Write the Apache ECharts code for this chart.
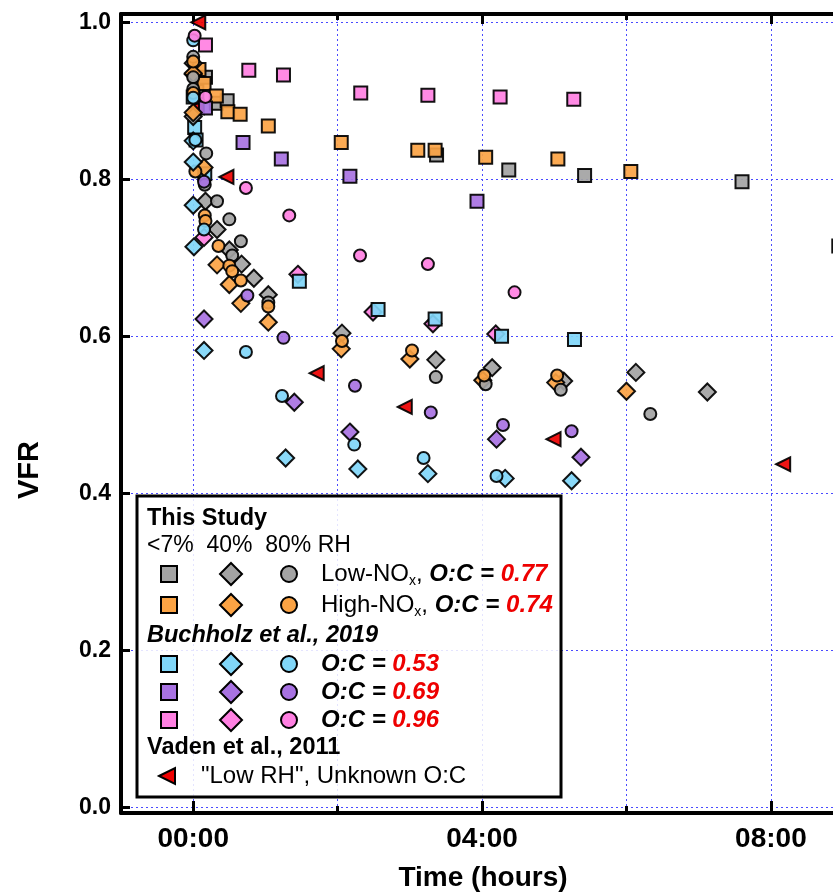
<!DOCTYPE html>
<html>
<head>
<meta charset="utf-8">
<script src="https://cdn.jsdelivr.net/npm/echarts@6/dist/echarts.min.js"></script>
<style>
html,body{margin:0;padding:0;background:#fff;}
#chart{width:833px;height:892px;}
</style>
</head>
<body>
<div id="chart"></div>
<script>
// ---- Data (time in hours, VFR) ----
const xTickValues = [0, 2, 4, 6, 8];
const xLabelValues = [0, 4, 8];
const yTickValues = [0, 0.2, 0.4, 0.6, 0.8, 1.0];

// This study, Low-NOx (O:C 0.77)
const lowSq = [[0.05,0.912],[0.17,0.93],[0.32,0.897],[0.47,0.90],[3.37,0.831],[4.37,0.812],[5.42,0.805],[7.6,0.797],[8.94,0.715]];
const lowDia = [[0.0,0.948],[0.0,0.88],[0.17,0.772],[0.33,0.736],[0.5,0.710],[0.67,0.692],[0.84,0.674],[1.04,0.653],[2.06,0.604],[3.36,0.570],[4.14,0.560],[5.13,0.543],[6.13,0.554],[7.12,0.529]];
const lowCir = [[0.0,0.956],[0.0,0.93],[0.0,0.915],[0.18,0.833],[0.16,0.793],[0.33,0.772],[0.5,0.749],[0.66,0.721],[0.54,0.703],[1.04,0.643],[3.36,0.548],[4.05,0.539],[5.09,0.532],[6.33,0.501]];
// This study, High-NOx (O:C 0.74)
const highSq = [[0.08,0.94],[0.15,0.922],[0.32,0.906],[0.48,0.886],[0.65,0.883],[1.04,0.868],[2.05,0.847],[3.11,0.837],[3.35,0.837],[4.05,0.828],[5.05,0.826],[6.06,0.810]];
const highDia = [[0.0,0.935],[0.0,0.885],[0.15,0.815],[0.33,0.691],[0.5,0.666],[0.66,0.642],[1.04,0.618],[2.05,0.584],[3.0,0.571],[4.01,0.544],[5.02,0.541],[6.0,0.530]];
const highCir = [[0.0,0.95],[0.0,0.91],[0.03,0.81],[0.16,0.754],[0.17,0.747],[0.35,0.715],[0.5,0.69],[0.54,0.683],[0.66,0.671],[1.04,0.638],[2.06,0.594],[3.03,0.582],[4.03,0.550],[5.04,0.550]];
// Buchholz et al., 2019
const b53Sq = [[0.0,0.905],[0.02,0.866],[0.04,0.85],[0.16,0.807],[1.47,0.670],[2.56,0.634],[3.35,0.622],[4.27,0.600],[5.28,0.596]];
const b53Dia = [[0.0,0.849],[0.0,0.822],[0.0,0.767],[0.01,0.714],[0.15,0.582],[1.28,0.445],[2.28,0.431],[3.25,0.425],[4.32,0.419],[5.24,0.416]];
const b53Cir = [[0.0,0.977],[0.0,0.904],[0.03,0.85],[0.15,0.736],[0.73,0.580],[1.23,0.524],[2.23,0.462],[3.19,0.445],[4.2,0.422]];
const b69Sq = [[0.17,0.891],[0.69,0.847],[1.22,0.826],[2.17,0.804],[3.93,0.772]];
const b69Dia = [[0.15,0.622],[1.4,0.516],[2.17,0.478],[4.2,0.469],[5.37,0.446]];
const b69Cir = [[0.15,0.797],[0.75,0.652],[1.25,0.598],[2.24,0.537],[3.29,0.503],[4.29,0.487],[5.24,0.479]];
const b96Sq = [[0.17,0.971],[0.77,0.939],[1.25,0.933],[2.32,0.910],[3.25,0.907],[4.25,0.905],[5.27,0.902]];
const b96Dia = [[0.0,0.934],[0.15,0.726],[1.45,0.679],[2.49,0.631],[3.32,0.616],[4.19,0.603]];
const b96Cir = [[0.02,0.983],[0.17,0.905],[0.73,0.789],[1.33,0.754],[2.31,0.703],[3.25,0.692],[4.45,0.656]];
// Vaden et al., 2011
const vaden = [[0.07,1.0],[0.05,0.892],[0.46,0.803],[1.71,0.553],[2.93,0.510],[4.99,0.469],[8.17,0.437]];

// ---- Styling ----
const C = {
  gray: '#a3a3a3', orange: '#fba344', blue: '#80d6f8', purple: '#a872e2', pink: '#ff80e2', red: '#ee0000'
};
const FONT = '"Liberation Sans", Arial, Helvetica, sans-serif';
const GRID_COLOR = '#4a4aff';

function sc(name, data, shape, color) {
  const size = shape === 'rect' ? 13 : shape === 'diamond' ? 17 : shape === 'triangle' ? 14 : 12;
  return {
    name, type: 'scatter', data,
    symbol: shape, symbolSize: size,
    symbolRotate: shape === 'triangle' ? 90 : 0,
    clip: false,
    itemStyle: { color, borderColor: '#000', borderWidth: 2, opacity: 0.92 },
    emphasis: { disabled: true },
    xAxisIndex: 0, yAxisIndex: 0
  };
}

const series = [
  sc('Vaden', vaden, 'triangle', C.red),
  sc('Low sq', lowSq, 'rect', C.gray),
  sc('High sq', highSq, 'rect', C.orange),
  sc('B96 dia', b96Dia, 'diamond', C.pink),
  sc('B53 sq', b53Sq, 'rect', C.blue),
  sc('B69 sq', b69Sq, 'rect', C.purple),
  sc('B96 sq', b96Sq, 'rect', C.pink),
  sc('Low dia', lowDia, 'diamond', C.gray),
  sc('High dia', highDia, 'diamond', C.orange),
  sc('Low cir', lowCir, 'circle', C.gray),
  sc('High cir', highCir, 'circle', C.orange),
  sc('B53 dia', b53Dia, 'diamond', C.blue),
  sc('B69 dia', b69Dia, 'diamond', C.purple),
  sc('B53 cir', b53Cir, 'circle', C.blue),
  sc('B69 cir', b69Cir, 'circle', C.purple),
  sc('B96 cir', b96Cir, 'circle', C.pink)
];

const gridLine = { show: true, lineStyle: { color: GRID_COLOR, type: [2, 3], width: 1 } };
const fmtTime = v => (v < 10 ? '0' : '') + Math.round(v) + ':00';

const xCommon = { type: 'value', min: -1, max: 8.86, gridIndex: 0 };
const xAxis = [
  Object.assign({}, xCommon, {
    position: 'bottom',
    axisLine: { show: true, onZero: false, lineStyle: { color: '#000', width: 4 } },
    axisTick: { show: true, inside: true, length: 7, lineStyle: { color: '#000', width: 3 }, customValues: xTickValues },
    axisLabel: { show: true, customValues: xLabelValues, formatter: fmtTime, fontSize: 28, fontWeight: 'bold', color: '#000', fontFamily: FONT, margin: 12 },
    splitLine: gridLine
  }),
  Object.assign({}, xCommon, {
    position: 'bottom',
    axisLine: { show: false, onZero: false },
    axisTick: { show: true, inside: true, length: 12, lineStyle: { color: '#000', width: 3 }, customValues: xLabelValues },
    axisLabel: { show: false }, splitLine: { show: false }
  }),
  Object.assign({}, xCommon, {
    position: 'top',
    axisLine: { show: true, onZero: false, lineStyle: { color: '#000', width: 4 } },
    axisTick: { show: true, inside: true, length: 6, lineStyle: { color: '#000', width: 3 }, customValues: xTickValues },
    axisLabel: { show: false }, splitLine: { show: false }
  }),
  Object.assign({}, xCommon, {
    position: 'top',
    axisLine: { show: false, onZero: false },
    axisTick: { show: true, inside: true, length: 10, lineStyle: { color: '#000', width: 3 }, customValues: xLabelValues },
    axisLabel: { show: false }, splitLine: { show: false }
  })
];

const yAxis = [{
  type: 'value', min: -0.0073, max: 1.0106, position: 'left',
  axisLine: { show: true, onZero: false, lineStyle: { color: '#000', width: 4 } },
  axisTick: { show: true, inside: true, length: 9, lineStyle: { color: '#000', width: 3 }, customValues: yTickValues },
  axisLabel: { show: true, customValues: yTickValues, formatter: v => v.toFixed(1), fontSize: 23, fontWeight: 'bold', color: '#000', fontFamily: FONT, margin: 10 },
  splitLine: gridLine
}];

// ---- Legend (drawn as graphic) ----
const LX = 137, LY = 496;
const rowY = { study: 519, rh: 546, low: 574, high: 605, buch: 636, b53: 664, b69: 692, b96: 720, vaden: 748, tri: 776 };
const symX = { sq: 169, dia: 231, cir: 289 };
function legSq(y, color) { return { type: 'rect', shape: { x: symX.sq - 8, y: y - 8, width: 16, height: 16 }, style: { fill: color, stroke: '#000', lineWidth: 2 }, z: 101 }; }
function legDia(y, color) { const r = 11, x = symX.dia; return { type: 'polygon', shape: { points: [[x, y - r], [x + r, y], [x, y + r], [x - r, y]] }, style: { fill: color, stroke: '#000', lineWidth: 2 }, z: 101 }; }
function legCir(y, color) { return { type: 'circle', shape: { cx: symX.cir, cy: y, r: 8 }, style: { fill: color, stroke: '#000', lineWidth: 2 }, z: 101 }; }
const rich = {
  n: { fontSize: 24, fontFamily: FONT, fill: '#000', lineHeight: 28 },
  s: { fontSize: 14, fontFamily: FONT, fill: '#000', lineHeight: 14, verticalAlign: 'bottom' },
  b: { fontSize: 24, fontFamily: FONT, fill: '#000', fontWeight: 'bold', fontStyle: 'italic', lineHeight: 28 },
  r: { fontSize: 24, fontFamily: FONT, fill: '#ee0000', fontWeight: 'bold', fontStyle: 'italic', lineHeight: 28 }
};
function legText(x, y, text, extra) {
  return { type: 'text', x, y, z: 102, style: Object.assign({ text, fontFamily: FONT, fontSize: 23, fill: '#000', textVerticalAlign: 'middle', textAlign: 'left', rich }, extra || {}) };
}
const graphic = [
  { type: 'rect', shape: { x: LX, y: LY, width: 424, height: 301 }, style: { fill: 'rgba(255,255,255,0.85)', stroke: '#000', lineWidth: 3 }, z: 100 },
  legText(147, rowY.study, 'This Study', { fontWeight: 'bold', fontSize: 23.5 }),
  legText(147, rowY.rh, '<7%  40%  80% RH'),
  legSq(rowY.low, C.gray), legDia(rowY.low, C.gray), legCir(rowY.low, C.gray),
  legText(321, rowY.low, '{n|Low-NO}{s|x}{n|, }{b|O:C = }{r|0.77}'),
  legSq(rowY.high, C.orange), legDia(rowY.high, C.orange), legCir(rowY.high, C.orange),
  legText(321, rowY.high, '{n|High-NO}{s|x}{n|, }{b|O:C = }{r|0.74}'),
  legText(147, rowY.buch, 'Buchholz et al., 2019', { fontWeight: 'bold', fontStyle: 'italic', fontSize: 23.5 }),
  legSq(rowY.b53, C.blue), legDia(rowY.b53, C.blue), legCir(rowY.b53, C.blue),
  legText(321, rowY.b53, '{b|O:C = }{r|0.53}'),
  legSq(rowY.b69, C.purple), legDia(rowY.b69, C.purple), legCir(rowY.b69, C.purple),
  legText(321, rowY.b69, '{b|O:C = }{r|0.69}'),
  legSq(rowY.b96, C.pink), legDia(rowY.b96, C.pink), legCir(rowY.b96, C.pink),
  legText(321, rowY.b96, '{b|O:C = }{r|0.96}'),
  legText(147, rowY.vaden, 'Vaden et al., 2011', { fontWeight: 'bold', fontSize: 23.5 }),
  { type: 'polygon', shape: { points: [[159, rowY.tri], [175, rowY.tri - 8], [175, rowY.tri + 8]] }, style: { fill: C.red, stroke: '#000', lineWidth: 2 }, z: 101 },
  legText(201, rowY.tri, '"Low RH", Unknown O:C', { fontSize: 24 }),
  // axis titles
  { type: 'text', x: 30, y: 470, rotation: Math.PI / 2, z: 50, style: { text: 'VFR', fontFamily: FONT, fontSize: 29, fontWeight: 'bold', fill: '#000', textAlign: 'center', textVerticalAlign: 'middle' } },
  { type: 'text', x: 483, y: 878, z: 50, style: { text: 'Time (hours)', fontFamily: FONT, fontSize: 28, fontWeight: 'bold', fill: '#000', textAlign: 'center', textVerticalAlign: 'middle' } }
];

const chart = echarts.init(document.getElementById('chart'), null, { renderer: 'canvas' });
chart.setOption({
  animation: false,
  backgroundColor: '#fff',
  grid: { left: 121, top: 14, right: 0, height: 799, containLabel: false },
  xAxis, yAxis, series, graphic
});
</script>
</body>
</html>
